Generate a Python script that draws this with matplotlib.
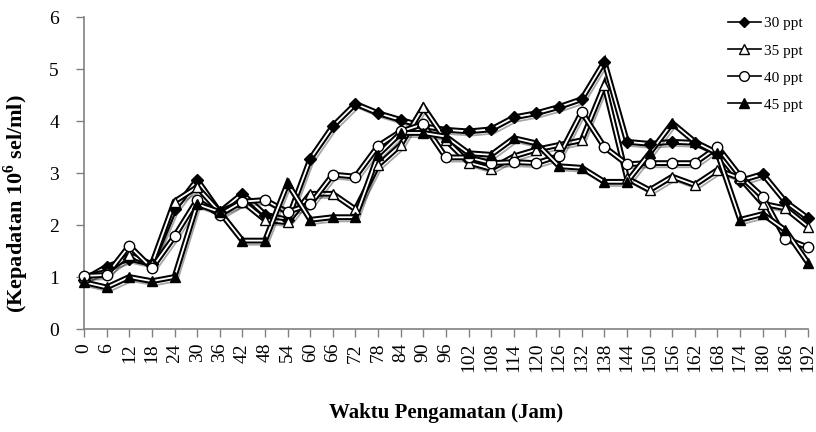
import matplotlib
matplotlib.use("Agg")
import matplotlib.pyplot as plt
import matplotlib.patheffects as pe
from matplotlib.lines import Line2D
import numpy as np

hours = list(range(0, 193, 6))
labels = ["30 ppt", "35 ppt", "40 ppt", "45 ppt"]

s30 = [0.95, 1.2, 1.35, 1.25, 2.3, 2.87, 2.25, 2.6, 2.2, 2.1, 3.27, 3.9, 4.33, 4.15, 4.02, 3.9, 3.83,
       3.8, 3.84, 4.07, 4.15, 4.27, 4.42, 5.14, 3.6, 3.56, 3.6, 3.58, 3.38, 2.85, 2.98, 2.45, 2.13]
s35 = [1.0, 1.1, 1.42, 1.25, 2.45, 2.73, 2.25, 2.45, 2.1, 2.05, 2.6, 2.6, 2.3, 3.15, 3.54, 4.27, 3.63,
       3.2, 3.08, 3.32, 3.45, 3.54, 3.63, 4.69, 2.9, 2.67, 2.93, 2.77, 3.06, 2.9, 2.41, 2.32, 1.97]
s40 = [1.02, 1.04, 1.6, 1.17, 1.78, 2.48, 2.2, 2.45, 2.48, 2.25, 2.4, 2.97, 2.93, 3.52, 3.8, 3.94, 3.3,
       3.3, 3.19, 3.21, 3.19, 3.33, 4.17, 3.5, 3.17, 3.19, 3.19, 3.19, 3.5, 2.94, 2.54, 1.74, 1.57]
s45 = [0.9, 0.8, 1.0, 0.92, 1.0, 2.4, 2.25, 1.7, 1.7, 2.8, 2.1, 2.15, 2.15, 3.35, 3.77, 3.77, 3.7,
       3.38, 3.35, 3.67, 3.57, 3.13, 3.1, 2.83, 2.83, 3.38, 3.96, 3.6, 3.38, 2.1, 2.21, 1.9, 1.27]

series = [s30, s35, s40, s45]
markers = ["D", "^", "o", "^"]
mfaces = ["black", "white", "white", "black"]
msizes = [6, 7, 7.5, 7]

plt.rcParams['font.family'] = ['Liberation Serif', 'DejaVu Serif']

fig = plt.figure(figsize=(8.16, 4.32), dpi=100)
ax = fig.add_axes([84/816, 1 - 329/432, (808 - 84)/816, (329 - 17)/432])

line_fx = [pe.SimpleLineShadow(offset=(2, -3), shadow_color='black', alpha=0.35, rho=0.3),
           pe.Stroke(linewidth=4.2, foreground='black'), pe.Normal()]

for s in series:
    ax.plot(hours, s, color='white', lw=1.3, path_effects=line_fx, zorder=2,
            solid_joinstyle='miter')
for s, m, fc, ms in zip(series, markers, mfaces, msizes):
    ax.plot(hours, s, linestyle='none', marker=m, markersize=ms, markerfacecolor=fc,
            markeredgecolor='black', markeredgewidth=1.0, zorder=3, clip_on=False)

ax.set_xlim(0, 192)
ax.set_ylim(0, 6)
ax.set_xticks(hours)
ax.set_xticklabels([str(h) for h in hours], rotation=90, fontsize=14)
ax.set_yticks(range(0, 7))
ax.set_yticklabels([str(v) for v in range(0, 7)], fontsize=14)
ax.tick_params(axis='both', direction='out', length=6, width=1, color='#808080', pad=4)
ax.tick_params(axis='y', pad=12)
for sp in ['top', 'right']:
    ax.spines[sp].set_visible(False)
for sp in ['left', 'bottom']:
    ax.spines[sp].set_color('#808080')
    ax.spines[sp].set_linewidth(1.2)

ax.set_xlabel("Waktu Pengamatan (Jam)", fontsize=15, fontweight='bold', labelpad=22)
ax.set_ylabel(r"(Kepadatan 10$^{\mathregular{6}}$ sel/ml)", fontsize=16, fontweight='bold')
ax.yaxis.set_label_coords(-0.073, 0.40)

handles = [Line2D([], [], color='black', lw=1.2, marker=m, markersize=ms - 0.5,
                  markerfacecolor=fc, markeredgecolor='black') for m, fc, ms in zip(markers, mfaces, msizes)]
ax.legend(handles, labels, loc='upper right', bbox_to_anchor=(1.012, 1.045), frameon=False,
          fontsize=11, handlelength=2.2, handletextpad=0.2, labelspacing=0.88)

fig.savefig("out.png", dpi=100)
